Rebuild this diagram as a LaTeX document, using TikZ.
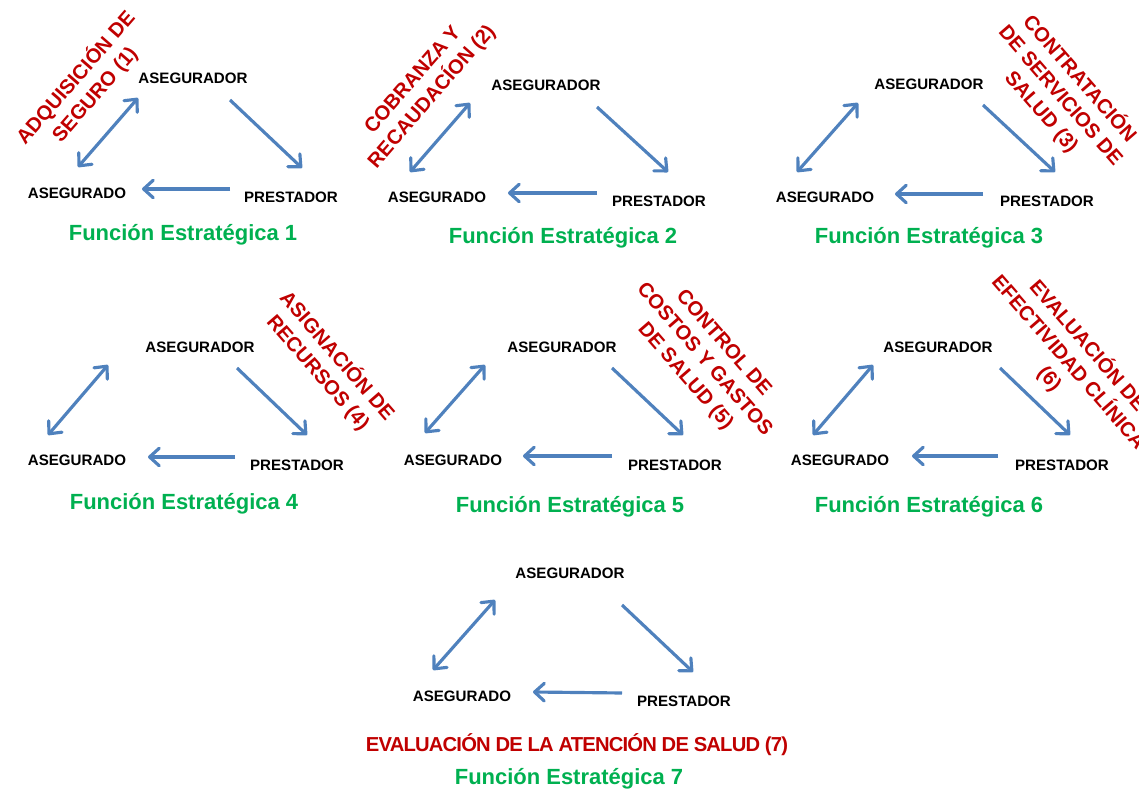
\documentclass[tikz,border=0pt]{standalone}
\usepackage{fontspec}
\setmainfont{Liberation Sans}
\usetikzlibrary{arrows.meta}
\definecolor{arrowblue}{HTML}{4F81BD}
\definecolor{taskred}{HTML}{C00000}
\definecolor{funcgreen}{HTML}{00B050}

\begin{document}
\begin{tikzpicture} [
        x = 0.02cm, y = -0.02cm,
        actor/.style = {inner sep=0, font=\bfseries\fontsize{8.6}{10}\selectfont},
        func/.style  = {inner sep=0, anchor=base, text=funcgreen, font=\bfseries\fontsize{12.5}{15}\selectfont},
        task/.style  = {inner sep=0, align=center, text=taskred, font=\bfseries\fontsize{11.5}{14.4}\selectfont},
        edge/.style  = {draw=arrowblue, line width=1.8pt, -{Straight Barb[length=5.5pt,width=10pt,round]}},
        both/.style  = {edge, {Straight Barb[length=5.5pt,width=10pt,round]}-{Straight Barb[length=5.5pt,width=10pt,round]}}
    ]
    \useasboundingbox (0,0) rectangle (1139,793);

    % funcion 1
    \node[actor] (dor1) at (193,78)  {ASEGURADOR};
    \node[actor] (ado1) at (77,193)  {ASEGURADO};
    \node[actor] (pre1) at (291,197) {PRESTADOR};
    \node[task, rotate=49] (tag1) at (85,86) {ADQUISICIÓN DE\\SEGURO (1)};
    \node[func] (fe1) at (183,241) {Función Estratégica 1};
    \draw[both] ([shift={(1,-26)}]ado1.center) -- ([shift={(-55,20)}]dor1.center);
    \draw[edge] ([shift={(37,22)}]dor1.center) -- ([shift={(11,-29)}]pre1.center);
    \draw[edge] ([shift={(-61,-8)}]pre1.center) -- ([shift={(65,-4)}]ado1.center);

    % funcion 2
    \node[actor] (dor2) at (546,85)  {ASEGURADOR};
    \node[actor] (ado2) at (437,197) {ASEGURADO};
    \node[actor] (pre2) at (659,201) {PRESTADOR};
    \node[task, rotate=49] (tag2) at (423,89) {COBRANZA Y\\RECAUDACÍON (2)};
    \node[func] (fe2) at (563,244) {Función Estratégica 2};
    \draw[both] ([shift={(-27,-25)}]ado2.center) -- ([shift={(-76,18)}]dor2.center);
    \draw[edge] ([shift={(51,22)}]dor2.center) -- ([shift={(9,-29)}]pre2.center);
    \draw[edge] ([shift={(-62,-8)}]pre2.center) -- ([shift={(71,-4)}]ado2.center);

    % funcion 3
    \node[actor] (dor3) at (929,84)   {ASEGURADOR};
    \node[actor] (ado3) at (825,197)  {ASEGURADO};
    \node[actor] (pre3) at (1047,201) {PRESTADOR};
    \node[task, rotate=-49] (tag3) at (1061,95) {CONTRATACIÓN\\DE SERVICIOS DE\\SALUD (3)};
    \node[func] (fe3) at (929,244) {Función Estratégica 3};
    \draw[both] ([shift={(-28,-25)}]ado3.center) -- ([shift={(-71,19)}]dor3.center);
    \draw[edge] ([shift={(54,21)}]dor3.center) -- ([shift={(8,-29)}]pre3.center);
    \draw[edge] ([shift={(-64,-7)}]pre3.center) -- ([shift={(70,-3)}]ado3.center);

    % funcion 4
    \node[actor] (dor4) at (200,347) {ASEGURADOR};
    \node[actor] (ado4) at (77,460)  {ASEGURADO};
    \node[actor] (pre4) at (297,465) {PRESTADOR};
    \node[task, rotate=-49] (tag4) at (328,364) {ASIGNACIÓN DE\\RECURSOS (4)};
    \node[func] (fe4) at (184,510) {Función Estratégica 4};
    \draw[both] ([shift={(-29,-25)}]ado4.center) -- ([shift={(-92,18)}]dor4.center);
    \draw[edge] ([shift={(37,21)}]dor4.center) -- ([shift={(10,-30)}]pre4.center);
    \draw[edge] ([shift={(-62,-8)}]pre4.center) -- ([shift={(71,-3)}]ado4.center);

    % funcion 5
    \node[actor] (dor5) at (562,347) {ASEGURADOR};
    \node[actor] (ado5) at (453,460) {ASEGURADO};
    \node[actor] (pre5) at (675,465) {PRESTADOR};
    \node[task, rotate=-49] (tag5) at (704,360) {CONTROL DE\\COSTOS Y GASTOS\\DE SALUD (5)};
    \node[func] (fe5) at (570,513) {Función Estratégica 5};
    \draw[both] ([shift={(-28,-27)}]ado5.center) -- ([shift={(-77,18)}]dor5.center);
    \draw[edge] ([shift={(50,21)}]dor5.center) -- ([shift={(8,-30)}]pre5.center);
    \draw[edge] ([shift={(-63,-9)}]pre5.center) -- ([shift={(70,-4)}]ado5.center);

    % funcion 6
    \node[actor] (dor6) at (938,347)  {ASEGURADOR};
    \node[actor] (ado6) at (840,460)  {ASEGURADO};
    \node[actor] (pre6) at (1062,465) {PRESTADOR};
    \node[task, rotate=-49] (tag6) at (1069,362) {EVALUACIÓN DE\\EFECTIVIDAD CLÍNICA\\(6)};
    \node[func] (fe6) at (929,513) {Función Estratégica 6};
    \draw[both] ([shift={(-27,-25)}]ado6.center) -- ([shift={(-65,18)}]dor6.center);
    \draw[edge] ([shift={(62,21)}]dor6.center) -- ([shift={(8,-30)}]pre6.center);
    \draw[edge] ([shift={(-64,-9)}]pre6.center) -- ([shift={(72,-4)}]ado6.center);

    % funcion 7
    \node[actor] (dor7) at (570,573) {ASEGURADOR};
    \node[actor] (ado7) at (462,696) {ASEGURADO};
    \node[actor] (pre7) at (684,701) {PRESTADOR};
    \node[task, anchor=base] (tag7) at (577,751) {\addfontfeature{LetterSpace=-4}EVALUACIÓN DE LA ATENCIÓN DE SALUD (7)};
    \node[func] (fe7) at (569,784) {Función Estratégica 7};
    \draw[both] ([shift={(-29,-26)}]ado7.center) -- ([shift={(-75,27)}]dor7.center);
    \draw[edge] ([shift={(52,32)}]dor7.center) -- ([shift={(9,-29)}]pre7.center);
    \draw[edge] ([shift={(-62,-8)}]pre7.center) -- ([shift={(71,-4)}]ado7.center);

\end{tikzpicture}
\end{document}
